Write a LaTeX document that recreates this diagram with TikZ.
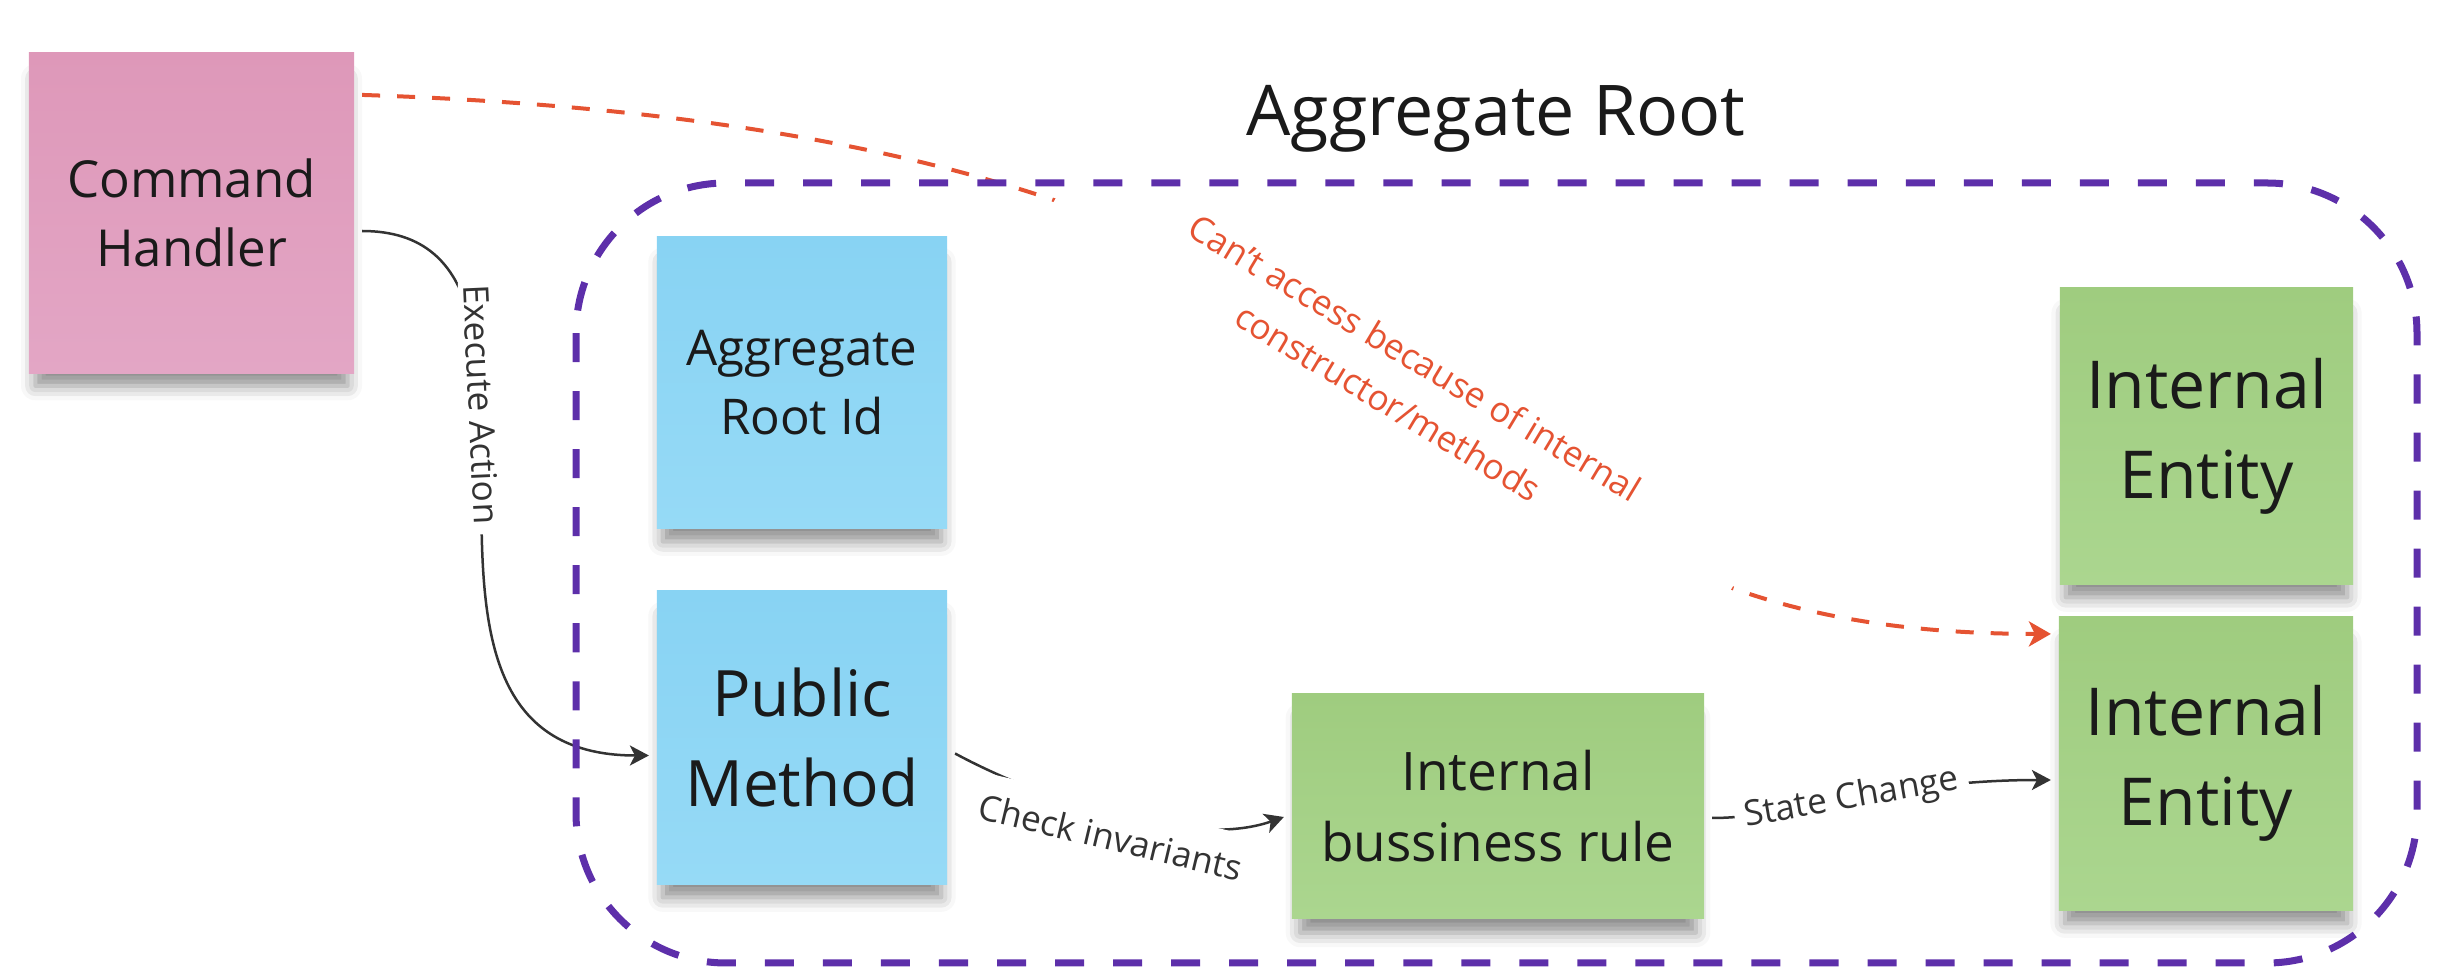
\documentclass[tikz,border=0pt]{standalone}
\usepackage{fontspec}
\setmainfont{Open Sans}
\usepackage{tikz}
\usetikzlibrary{arrows.meta}
\usetikzlibrary{shadows.blur}

\definecolor{pinktop}{RGB}{222,152,185}
\definecolor{pinkbot}{RGB}{227,166,197}
\definecolor{bluetop}{RGB}{136,211,243}
\definecolor{bluebot}{RGB}{150,218,246}
\definecolor{greentop}{RGB}{159,204,127}
\definecolor{greenbot}{RGB}{171,214,143}
\definecolor{rootpurple}{RGB}{93,47,170}
\definecolor{warnred}{RGB}{229,83,50}
\definecolor{inkgray}{RGB}{51,51,51}
\definecolor{textblack}{RGB}{26,26,26}

\tikzset{
  note/.style={rectangle, align=center, text=textblack, inner sep=0pt, outer sep=0.08cm,
    blur shadow={shadow xshift=0cm, shadow yshift=-0.2cm, shadow blur radius=0.15cm,
      shadow opacity=45, shadow scale=0.96}},
  pinknote/.style={note, top color=pinktop, bottom color=pinkbot},
  bluenote/.style={note, top color=bluetop, bottom color=bluebot},
  greennote/.style={note, top color=greentop, bottom color=greenbot},
  conn/.style={draw=inkgray, line width=0.025cm, -{Stealth[length=0.19cm, width=0.2cm, inset=0.05cm]}},
  redconn/.style={draw=warnred, line width=0.04cm, dash pattern=on 0.18cm off 0.17cm,
    -{Stealth[length=0.22cm, width=0.25cm, inset=0.06cm]}},
  lbl/.style={fill=white, text=inkgray, font=\fontsize{10}{14.8}\selectfont, inner xsep=0.1cm,
    inner ysep=0.05cm}
}

\begin{document}
\begin{tikzpicture}[x=0.01cm, y=-0.01cm]
\useasboundingbox (0,0) rectangle (2444,980);

% sticky notes
\node[pinknote, minimum width=3.25cm, minimum height=3.2cm, font=\fontsize{14.5}{19.6}\selectfont] (handler) at (191.5,213) {Command\\Handler};
\node[bluenote, minimum width=2.9cm, minimum height=2.91cm, font=\fontsize{14}{19.4}\selectfont] (rootid) at (802,382.5) {Aggregate\\Root Id};
\node[bluenote, minimum width=2.9cm, minimum height=2.93cm, font=\fontsize{18.2}{25.6}\selectfont] (pubmethod) at (802,737.5) {Public\\Method};
\node[greennote, minimum width=4.12cm, minimum height=2.24cm, font=\fontsize{15.1}{20.2}\selectfont] (bizrule) at (1498,806) {Internal\\bussiness rule};
\node[greennote, minimum width=2.93cm, minimum height=2.96cm, font=\fontsize{18.8}{25.6}\selectfont] (entityA) at (2206.5,436) {Internal\\Entity};
\node[greennote, minimum width=2.94cm, minimum height=2.93cm, font=\fontsize{18.8}{25.6}\selectfont] (entityB) at (2206,763.5) {Internal\\Entity};

% connectors
\draw[redconn] ([yshift=1.18cm]handler.east) .. controls +(1223,41) and +(-702,0) .. ([yshift=1.295cm]entityB.west)
  node[lbl, midway, rotate=-31, text=warnred, inner xsep=1.3cm, align=center] {Can't access because of internal\\constructor/methods};
\draw[conn] ([yshift=-0.18cm]handler.east) .. controls +(250,0) and +(-310,0) .. ([yshift=-0.18cm]pubmethod.west)
  node[lbl, pos=0.385, sloped] {Execute Action};
\draw[conn] ([yshift=-0.16cm]pubmethod.east) .. controls +(85,46) and +(-94,33) .. ([yshift=-0.11cm]bizrule.west)
  node[lbl, midway, sloped, anchor=north, yshift=0.12cm, inner ysep=0.2cm] {Check invariants};
\draw[conn] ([yshift=-0.12cm]bizrule.east) .. controls +(80,0) and +(-160,0) .. ([yshift=-0.165cm]entityB.west)
  node[lbl, midway, sloped] {State Change};

% aggregate boundary
\draw[rootpurple, line width=0.07cm, dash pattern=on 0.29cm off 0.29cm, rounded corners=1.5cm] (576,183) rectangle (2417,963);
\node[font=\fontsize{19.9}{24}\selectfont, text=textblack, anchor=base] (roottitle) at (1496,136) {Aggregate Root};
\end{tikzpicture}
\end{document}
